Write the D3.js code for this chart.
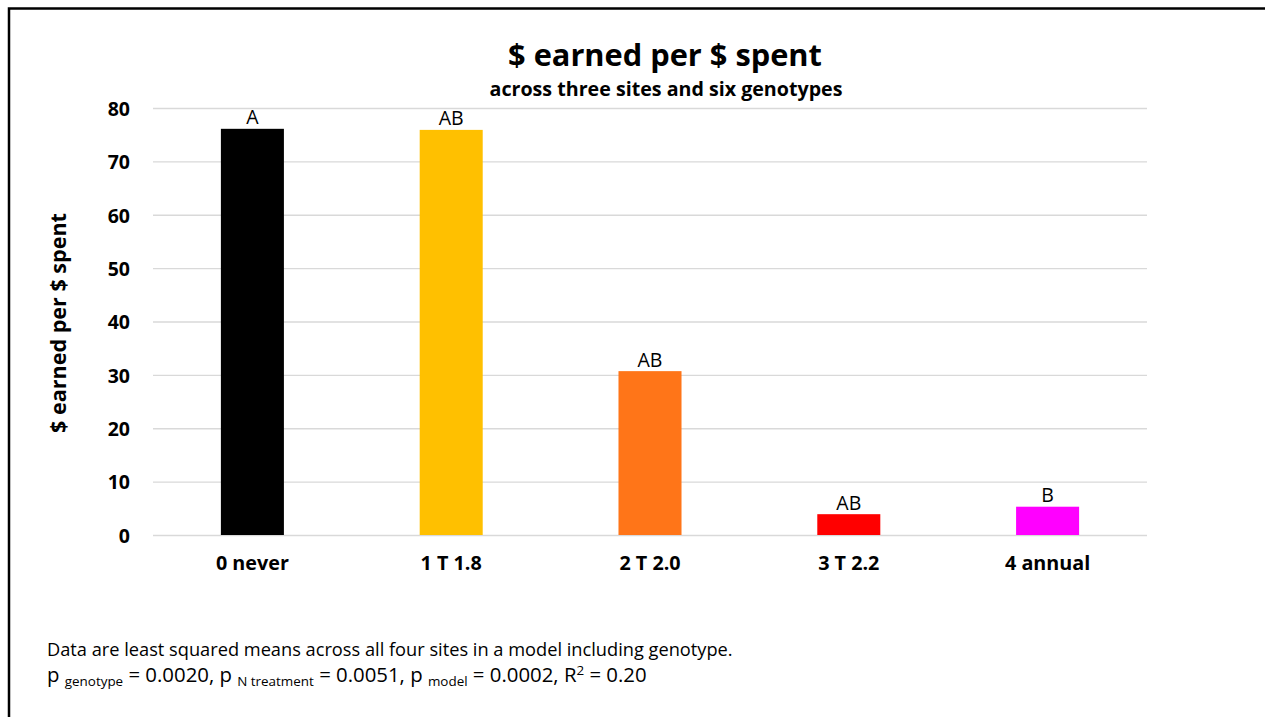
<!DOCTYPE html>
<html>
<head>
<meta charset="utf-8">
<script src="https://cdn.jsdelivr.net/npm/d3@7"></script>
<style>
  html, body { margin: 0; padding: 0; background: #fff; }
  svg { display: block; font-family: "Open Sans", Lato, sans-serif; }
</style>
</head>
<body>
<svg id="chart" width="1265" height="717"></svg>
<script>
// Return on fertiliser spend by N treatment
const categories = ["0 never", "1 T 1.8", "2 T 2.0", "3 T 2.2", "4 annual"];
const values = [76.1, 75.9, 30.7, 3.9, 5.3];
const letters = ["A", "AB", "AB", "AB", "B"];
const colors = ["#000000", "#FFC000", "#FF7518", "#FF0000", "#FF00FF"];
const yTicks = [0, 10, 20, 30, 40, 50, 60, 70, 80];

const FONT = "'Open Sans', Lato, sans-serif";
const svg = d3.select("#chart");
const W = 1265, H = 717;

// scale a text element's font size so it spans the given width
function fitWidth(sel, width) {
  const node = sel.node();
  const size = parseFloat(sel.attr("font-size"));
  const len = node.getComputedTextLength();
  if (len > 0) sel.attr("font-size", (size * width / len).toFixed(2));
  return sel;
}

// outer frame
svg.append("rect")
  .attr("x", 9).attr("y", 8.5)
  .attr("width", W + 10).attr("height", H + 10)
  .attr("fill", "none").attr("stroke", "#000").attr("stroke-width", 2.5);

const plot = { left: 153, right: 1147, top: 108, bottom: 535 };

const x = d3.scaleBand()
  .domain(categories)
  .range([plot.left, plot.right])
  .paddingInner(0.683).paddingOuter(0.3415);

const y = d3.scaleLinear().domain([0, 80]).range([plot.bottom, plot.top]);

// gridlines
svg.append("g")
  .selectAll("line")
  .data(yTicks)
  .join("line")
  .attr("x1", plot.left).attr("x2", plot.right)
  .attr("y1", d => y(d) + 0.5).attr("y2", d => y(d) + 0.5)
  .attr("stroke", "#d9d9d9").attr("stroke-width", 1.3);

// y axis labels
const yAxis = d3.axisLeft(y).tickValues(yTicks).tickSize(0).tickPadding(0);
svg.append("g")
  .attr("transform", `translate(${plot.left - 23},1)`)
  .call(yAxis)
  .call(g => g.select(".domain").remove())
  .call(g => g.selectAll("text")
    .attr("font-family", FONT)
    .attr("font-size", 19.5).attr("font-weight", "bold").attr("fill", "#000"));

// x axis labels
const xAxis = d3.axisBottom(x).tickSize(0).tickPadding(0);
const xg = svg.append("g")
  .attr("transform", `translate(0,${plot.bottom})`)
  .call(xAxis)
  .call(g => g.select(".domain").remove());
xg.selectAll("text")
  .attr("font-family", FONT)
  .attr("font-size", 18).attr("font-weight", "bold").attr("fill", "#000")
  .attr("dy", null).attr("y", 35);
fitWidth(xg.select("text"), 73);
xg.selectAll("text").attr("font-size", xg.select("text").attr("font-size"));

// bars
const data = categories.map((c, i) => ({ c, v: values[i], l: letters[i], col: colors[i] }));
svg.append("g")
  .selectAll("rect")
  .data(data)
  .join("rect")
  .attr("x", d => x(d.c))
  .attr("width", x.bandwidth())
  .attr("y", d => y(d.v))
  .attr("height", d => y(0) - y(d.v))
  .attr("fill", d => d.col);

// significance letters
svg.append("g")
  .selectAll("text")
  .data(data)
  .join("text")
  .attr("x", d => x(d.c) + x.bandwidth() / 2)
  .attr("y", d => y(d.v) - 4.5)
  .attr("text-anchor", "middle")
  .attr("font-size", 19.5)
  .attr("fill", "#000")
  .text(d => d.l);

// titles
fitWidth(svg.append("text")
  .attr("x", 665).attr("y", 66)
  .attr("text-anchor", "middle")
  .attr("font-size", 30).attr("font-weight", "bold")
  .text("$ earned per $ spent"), 314);

fitWidth(svg.append("text")
  .attr("x", 666).attr("y", 96)
  .attr("text-anchor", "middle")
  .attr("font-size", 18).attr("font-weight", "bold")
  .text("across three sites and six genotypes"), 353);

fitWidth(svg.append("text")
  .attr("transform", `translate(66,323) rotate(-90)`)
  .attr("text-anchor", "middle")
  .attr("font-size", 19).attr("font-weight", "bold")
  .text("$ earned per $ spent"), 220);

// footnote
fitWidth(svg.append("text")
  .attr("x", 47).attr("y", 656)
  .attr("font-size", 17)
  .text("Data are least squared means across all four sites in a model including genotype."), 686);

const foot = svg.append("text")
  .attr("x", 47).attr("y", 682)
  .attr("font-size", 17);
foot.append("tspan").text("p ");
foot.append("tspan").attr("font-size", "0.66em").attr("dy", 4).text("genotype");
foot.append("tspan").attr("dy", -4).text(" = 0.0020, p ");
foot.append("tspan").attr("font-size", "0.66em").attr("dy", 4).text("N treatment");
foot.append("tspan").attr("dy", -4).text(" = 0.0051, p ");
foot.append("tspan").attr("font-size", "0.66em").attr("dy", 4).text("model");
foot.append("tspan").attr("dy", -4).text(" = 0.0002, R");
foot.append("tspan").attr("font-size", "0.66em").attr("dy", -7).text("2");
foot.append("tspan").attr("dy", 7).text(" = 0.20");
fitWidth(foot, 600);
</script>
</body>
</html>
